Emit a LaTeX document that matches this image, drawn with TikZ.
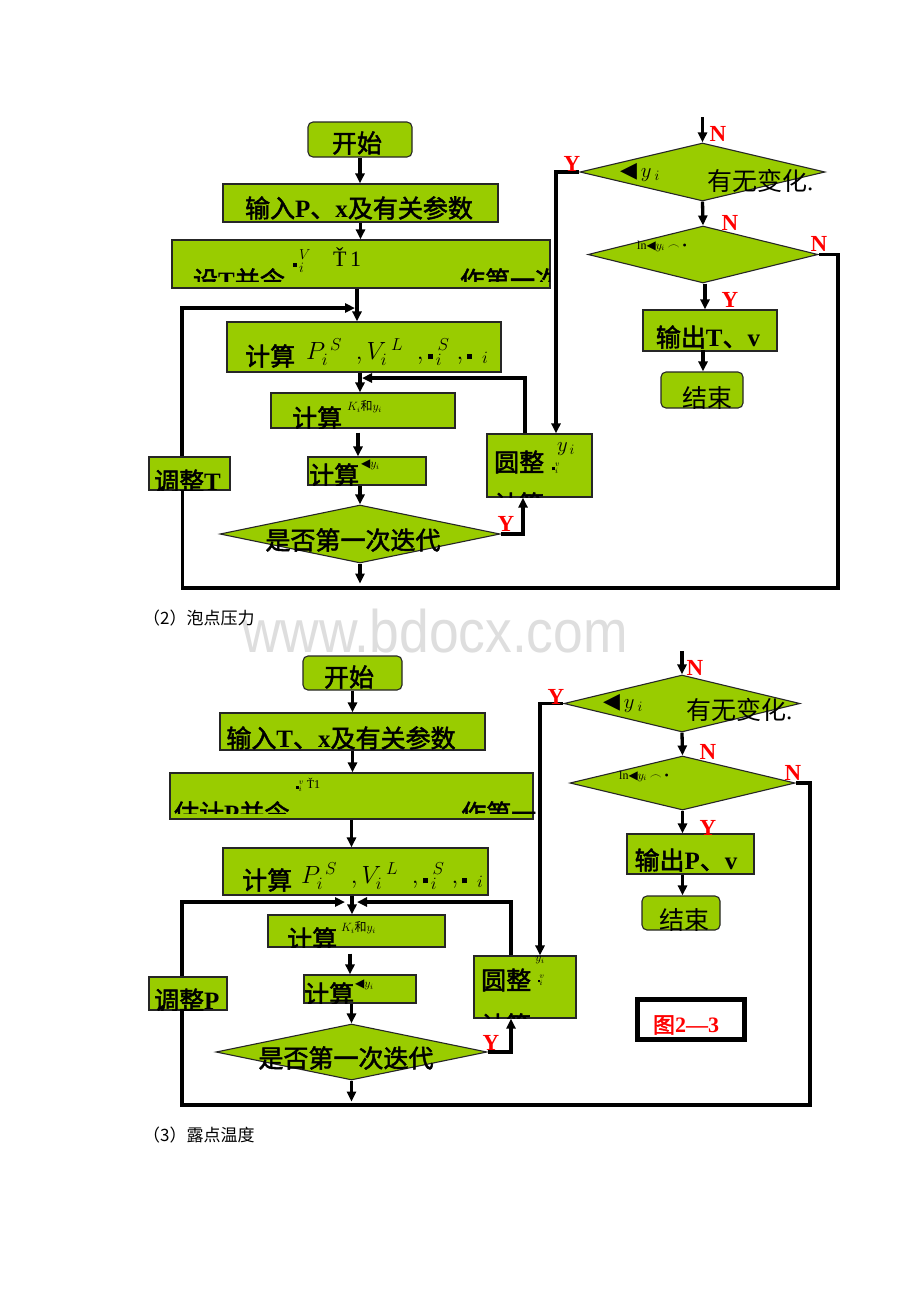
\documentclass[tikz,border=0pt]{standalone}
\usepackage{fontspec}
\setmainfont{Liberation Serif}
\newfontfamily\cjk[AutoFakeBold=2]{Noto Sans CJK SC}
\newfontfamily\djv{DejaVu Sans}
\newfontfamily\wmfont{Liberation Sans}
\usetikzlibrary{arrows.meta,shapes.geometric,calc}
\definecolor{boxgreen}{RGB}{153,204,0}
\definecolor{wmgray}{RGB}{222,222,222}
\newcommand\Z[1]{{\cjk\bfseries #1}}
\newcommand\Zr[1]{{\cjk #1}}
\newcommand\blk{\rule{5pt}{5pt}}
\newcommand\formula{$P_{i}^{\;S}\;\;,V_{i}^{\;L}\;\;,\blk_{\,i}^{\;S}\;,\blk_{\;\;i}$}
\tikzset{
  gbox/.style={draw=black!85, fill=boxgreen, line width=1.1pt, inner sep=0pt},
  rbox/.style={gbox, rounded corners=5pt},
  dia/.style={diamond, draw=black!85, fill=boxgreen, line width=1.1pt, inner sep=0pt},
  txt/.style={inner sep=0pt, font=\fontsize{25}{25}\selectfont\bfseries},
  txtr/.style={inner sep=0pt, font=\fontsize{25}{25}\selectfont},
  smalltxt/.style={inner sep=0pt, font=\fontsize{12}{12}\selectfont},
  yn/.style={inner sep=0pt, text=red, font=\fontsize{23}{23}\selectfont\bfseries},
  captxt/.style={inner sep=0pt, font=\fontsize{17}{17}\selectfont},
  thk/.style={line width=3.3pt, draw=black},
  arr/.style={thk, -{Triangle[length=10pt,width=9pt]}},
}
\begin{document}
\begin{tikzpicture}[x=1pt,y=-1pt]
\useasboundingbox[fill=white] (0,0) rectangle (920,1302);

% watermark
\node[inner sep=0pt, text=wmgray, font=\wmfont\fontsize{60}{60}\selectfont, xscale=0.89] (wm) at (435,631) {www.bdocx.com};

% ================= TOP DIAGRAM =================
\node[rbox, minimum width=104, minimum height=35] (start) at (360,139.5) {};
\node[gbox, minimum width=275, minimum height=38] (inp) at (360.5,203) {};
\node[gbox, minimum width=378, minimum height=48] (est) at (361,264) {};
\node[gbox, minimum width=274, minimum height=50] (calcA) at (364,347) {};
\node[gbox, minimum width=184, minimum height=35] (calcB) at (363,410.5) {};
\node[gbox, minimum width=118, minimum height=28] (calcC) at (367,471) {};
\node[dia, minimum width=280, minimum height=58] (first) at (360,534) {};
\node[gbox, minimum width=105, minimum height=63] (round) at (539.5,465.5) {};
\node[gbox, minimum width=81, minimum height=33] (adj) at (189.5,473.5) {};
\node[dia, minimum width=245, minimum height=58] (dA) at (702.5,172) {};
\node[dia, minimum width=230, minimum height=57] (dB) at (703,254.5) {};
\node[gbox, minimum width=134, minimum height=41] (out) at (710,330.5) {};
\node[rbox, minimum width=82, minimum height=36] (end) at (702,390) {};

% texts
\node[txt] (tstart) at (357,143) {\Z{开始}};
\node[txt] (tinp) at (359,208) {\Z{输入}P\Z{、}x\Z{及有关参数}};
\begin{scope}
\clip (est.north west) rectangle (550,281);
\node[txt] (test1) at (239,280) {\Z{设}T\Z{并令}};
\node[txt] (test2) at (510,280) {\Z{作第一次}};
\end{scope}
\node[inner sep=0pt, font=\fontsize{22}{22}\selectfont] (test3) at (327,260) {$\rule{4pt}{4pt}^{\,V}_{\,i}$\quad Ť\,1};
\node[txt,anchor=west] (tcA1) at (245,356) {\Z{计算}};
\node[inner sep=0pt, anchor=west, font=\fontsize{27}{27}\selectfont] (tcA2) at (306,352) {\formula};
\begin{scope}
\clip (calcB.south west) rectangle (calcB.north east);
\node[txt,anchor=west] (tcB1) at (292,418) {\Z{计算}};
\end{scope}
\node[smalltxt,anchor=west] (tcB2) at (347,407) {$K_i$\Zr{和}$y_i$};
\begin{scope}
\clip (calcC.south west) rectangle (calcC.north east);
\node[txt,anchor=west] (tcC1) at (309,475) {\Z{计算}};
\end{scope}
\node[smalltxt,anchor=west] (tcC2) at (361,465) {{\djv ◀}$y_i$};
\node[txt] (tfirst) at (353,540) {\Z{是否第一次迭代}};
\begin{scope}
\clip (round.south west) rectangle (round.north east);
\node[txt,anchor=west] (tr1) at (494,462) {\Z{圆整}};
\node[txt,anchor=west] (tr3) at (494,504) {\Z{计算}};
\end{scope}
\node[inner sep=0pt, font=\fontsize{22}{22}\selectfont] (tr2) at (566,449) {$y_{\,i}$};
\node[smalltxt] (tr4) at (556,468) {$\rule{3pt}{3pt}^{v}_{i}$};
\begin{scope}
\clip (adj.south west) rectangle (adj.north east);
\node[txt,anchor=west] (tadj) at (154,481) {\Z{调整}T};
\end{scope}
\node[inner sep=0pt, anchor=west, font=\fontsize{22}{22}\selectfont] (tdA1) at (620,172) {{\djv ◀}\,$y_{\;i}$};
\node[txtr,anchor=west] (tdA2) at (707,181) {\Zr{有无变化}.};
\node[smalltxt,anchor=west] (tdB) at (637,246) {ln{\djv ◀}$y_i$ $\frown$ \textbullet};
\node[txt] (tout) at (708,337) {\Z{输出}T\Z{、}v};
\begin{scope}
\clip (end.south west) rectangle (end.north east);
\node[txtr] (tend) at (707,398) {\Zr{结束}};
\end{scope}

% connectors
\coordinate (jA) at (355,308);
\coordinate (jB) at (362,378);
\coordinate (eA) at ([yshift=-20pt]first.south);
\coordinate (cA) at (838,588);
\coordinate (topA) at ([yshift=25pt]dA.north);
\draw[arr] (start.south) -- (start.south |- inp.north);
\draw[arr] (inp.south) -- (inp.south |- est.north);
\draw[arr] ([xshift=-4pt]est.south) -- ([xshift=-4pt]est.south |- calcA.north);
\draw[arr] ([xshift=-7.5pt]adj.north) |- (jA);
\draw[arr] ([xshift=-4pt]calcA.south) -- ([xshift=-4pt]calcA.south |- calcB.north);
\draw[arr] ([xshift=-14.5pt]round.north) |- (jB);
\draw[arr] ([xshift=-5pt,yshift=-4pt]calcB.south) -- ([xshift=-5pt]calcB.south |- calcC.north);
\draw[arr] (first.north |- calcC.south) -- (first.north);
\draw[arr] (first.east) -| ([xshift=-16.5pt]round.south);
\draw[arr] (first.south) -- (eA);
\draw[thk] ([xshift=-7pt]adj.south) |- (cA) |- (dB.east);
\draw[arr] (topA) -- (dA.north);
\draw[arr] (dA.west) -| ([xshift=16.5pt]round.north);
\draw[arr] (dA.south) -- (dB.north);
\draw[arr] ([xshift=2pt]dB.south) -- ([xshift=2pt]dB.south |- out.north);
\draw[arr] (end.north -| dB.south) ++(0,-21) -- (end.north -| dB.south);

\node[yn] (nA) at (718,134) {N};
\node[yn] (yA) at (572,164) {Y};
\node[yn] (nB) at (730,223) {N};
\node[yn] (nC) at (819,244) {N};
\node[yn] (yB) at (730,300) {Y};
\node[yn] (yC) at (506,524) {Y};

\node[captxt, anchor=west] (capA) at (143,618) {\Zr{（2）泡点压力}};

% ================= BOTTOM DIAGRAM =================
\node[rbox, minimum width=99, minimum height=34] (start2) at (352.5,673) {};
\node[gbox, minimum width=265, minimum height=37] (inp2) at (352.5,731.5) {};
\node[gbox, minimum width=363, minimum height=46] (est2) at (351.5,796) {};
\node[gbox, minimum width=265, minimum height=47] (calcA2) at (355.5,871.5) {};
\node[gbox, minimum width=177, minimum height=32] (calcB2) at (356.5,931) {};
\node[gbox, minimum width=112, minimum height=28] (calcC2) at (360,989) {};
\node[dia, minimum width=271, minimum height=56] (first2) at (351.5,1052) {};
\node[gbox, minimum width=102, minimum height=62] (round2) at (525,987) {};
\node[gbox, minimum width=78, minimum height=33] (adj2) at (188,993.5) {};
\node[dia, minimum width=236, minimum height=57] (dA2) at (682,703.5) {};
\node[dia, minimum width=225, minimum height=54] (dB2) at (682.5,783) {};
\node[gbox, minimum width=127, minimum height=40] (out2) at (690.5,854) {};
\node[rbox, minimum width=78, minimum height=34] (end2) at (681,913) {};
\node[draw=black, line width=5pt, minimum width=107, minimum height=40, inner sep=0pt] (fig) at (691,1019.5) {};

\node[txt] (tstart2) at (349,677) {\Z{开始}};
\node[txt] (tinp2) at (341,738) {\Z{输入}T\Z{、}x\Z{及有关参数}};
\begin{scope}
\clip (est2.north west) rectangle (540,813);
\node[txt,anchor=west] (test21) at (174,813) {\Z{估计}P\Z{并令}};
\node[txt,anchor=west] (test22) at (461,813) {\Z{作第一}};
\end{scope}
\node[smalltxt] (test23) at (308,785) {$\rule{3pt}{3pt}^{v}_{i}$ Ť1};
\node[txt,anchor=west] (tcA21) at (242,880) {\Z{计算}};
\node[inner sep=0pt, anchor=west, font=\fontsize{26}{26}\selectfont] (tcA22) at (301,876) {\formula};
\begin{scope}
\clip (calcB2.south west) rectangle (calcB2.north east);
\node[txt,anchor=west] (tcB21) at (287,939) {\Z{计算}};
\end{scope}
\node[smalltxt,anchor=west] (tcB22) at (341,928) {$K_i$\Zr{和}$y_i$};
\begin{scope}
\clip (calcC2.south west) rectangle (calcC2.north east);
\node[txt,anchor=west] (tcC21) at (304,994) {\Z{计算}};
\end{scope}
\node[smalltxt,anchor=west] (tcC22) at (355,985) {{\djv ◀}$y_i$};
\node[txt] (tfirst2) at (346,1058) {\Z{是否第一次迭代}};
\begin{scope}
\clip (round2.south west) rectangle (round2.north east);
\node[txt,anchor=west] (tr21) at (481,980) {\Z{圆整}};
\node[txt,anchor=west] (tr23) at (481,1025) {\Z{计算}};
\end{scope}
\node[smalltxt] (tr22) at (540,960) {$y_i$};
\node[smalltxt] (tr24) at (541,980) {$\rule{2pt}{2pt}^{v}_{i}$};
\begin{scope}
\clip (adj2.south west) rectangle (adj2.north east);
\node[txt,anchor=west] (tadj2) at (154,1000) {\Z{调整}P};
\end{scope}
\node[inner sep=0pt, anchor=west, font=\fontsize{22}{22}\selectfont] (tdA21) at (603,703) {{\djv ◀}\,$y_{\;i}$};
\node[txtr,anchor=west] (tdA22) at (686,710) {\Zr{有无变化}.};
\node[smalltxt,anchor=west] (tdB2) at (619,776) {ln{\djv ◀}$y_i$ $\frown$ \textbullet};
\node[txt] (tout2) at (686,860) {\Z{输出}P\Z{、}v};
\begin{scope}
\clip (end2.south west) rectangle (end2.north east);
\node[txtr] (tend2) at (684,920) {\Zr{结束}};
\end{scope}
\node[inner sep=0pt, text=red, font=\fontsize{22}{22}\selectfont\bfseries] (tfig) at (686,1025) {\Z{图}2—3};

\coordinate (jL) at (345,902);
\coordinate (jR) at (357,902);
\coordinate (eB) at ([yshift=-21pt]first2.south);
\coordinate (cB) at (810,1105);
\coordinate (topB) at ([yshift=23pt]dA2.north);
\draw[arr] (start2.south) -- (start2.south |- inp2.north);
\draw[arr] (inp2.south) -- (inp2.south |- est2.north);
\draw[arr] (est2.south) -- (est2.south |- calcA2.north);
\draw[arr] ([xshift=-3.5pt]calcA2.south) -- ([xshift=-3.5pt]calcA2.south |- calcB2.north);
\draw[arr] ([xshift=-6pt]adj2.north) |- (jL);
\draw[arr] ([xshift=-14pt]round2.north) |- (jR);
\draw[arr] ([xshift=-6.5pt,yshift=-6pt]calcB2.south) -- ([xshift=-6.5pt]calcB2.south |- calcC2.north);
\draw[arr] (first2.north |- calcC2.south) -- (first2.north);
\draw[arr] (first2.east) -| ([xshift=-14pt]round2.south);
\draw[arr] (first2.south) -- (eB);
\draw[thk] ([xshift=-6pt]adj2.south) |- (cB) |- (dB2.east);
\draw[arr] (topB) -- (dA2.north);
\draw[arr] (dA2.west) -| ([xshift=15pt]round2.north);
\draw[arr] (dA2.south) -- (dB2.north);
\draw[arr] (dB2.south) -- (dB2.south |- out2.north);
\draw[arr] (end2.north -| dB2.south) ++(0,-20) -- (end2.north -| dB2.south);

\node[yn] (nA2) at (695,668) {N};
\node[yn] (yA2) at (556,697) {Y};
\node[yn] (nB2) at (708,752) {N};
\node[yn] (nC2) at (793,773) {N};
\node[yn] (yB2) at (708,828) {Y};
\node[yn] (yC2) at (491,1043) {Y};

\node[captxt, anchor=west] (capB) at (143,1135) {\Zr{（3）露点温度}};
\end{tikzpicture}
\end{document}
